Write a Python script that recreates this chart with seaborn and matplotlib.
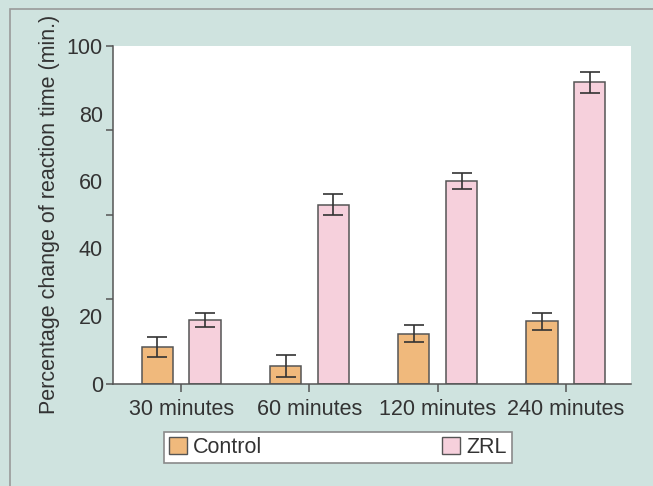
import matplotlib
matplotlib.use("Agg")
import matplotlib.pyplot as plt
import matplotlib.patches as mpatches
import pandas as pd
import seaborn as sns

# values
times = ['30 minutes', '60 minutes', '120 minutes', '240 minutes']
groups = ['Control', 'ZRL']
control_mean = [10.8, 5.2, 14.8, 18.5]
control_err = [3.0, 3.2, 2.5, 2.5]
zrl_mean = [18.7, 53.0, 60.1, 89.2]
zrl_err = [2.1, 3.0, 2.4, 3.0]
y_labels = [0, 20, 40, 60, 80, 100]
y_marks = [0, 25, 50, 75, 100]

data = pd.DataFrame({
    'Time': times * 2,
    'Group': ['Control'] * 4 + ['ZRL'] * 4,
    'Value': control_mean + zrl_mean,
    'Err': control_err + zrl_err,
})

bg = '#cfe3df'
text_c = '#333333'
line_c = '#555555'
palette = {'Control': '#f0b97c', 'ZRL': '#f6d0dc'}
fs = 15.5

sns.set_style('white')
plt.rcParams['font.family'] = ['Liberation Sans', 'DejaVu Sans']

fig = plt.figure(figsize=(6.53, 4.86), dpi=100, facecolor=bg)
fig.patches.append(mpatches.Rectangle((10 / 653, -0.1), 1.2, 1 - 9 / 486 + 0.1,
                                      transform=fig.transFigure, facecolor='none',
                                      edgecolor='#9a9a9a', linewidth=1.2, zorder=0))
ax = fig.add_axes([112.5 / 653, 1 - 383.5 / 486, (631 - 112.5) / 653, (383.5 - 46) / 486])

sns.barplot(data=data, x='Time', y='Value', hue='Group', hue_order=groups,
            palette=palette, saturation=1, width=0.744, gap=0.344, errorbar=None,
            edgecolor=line_c, linewidth=1.1, ax=ax, legend=False)

# error bars at the centres of the drawn bars
bars = [p for p in ax.patches if p.get_height() > 0]
for p in bars:
    xc = p.get_x() + p.get_width() / 2
    row = data[(data['Value'] - p.get_height()).abs() < 1e-9].iloc[0]
    ax.errorbar(xc, row['Value'], yerr=row['Err'], fmt='none', ecolor='#333333',
                elinewidth=1.2, capsize=7, capthick=1.2, zorder=5)

ax.set_xlim(-0.536, 3.508)
ax.set_ylim(0, 100)
ax.set_facecolor('white')
for s in ['top', 'right']:
    ax.spines[s].set_visible(False)
for s in ['left', 'bottom']:
    ax.spines[s].set_color(line_c)
    ax.spines[s].set_linewidth(1.1)

# labels every 20, tick marks every 25 (as in the reference)
ax.yaxis.remove_overlapping_locs = False
ax.set_yticks(y_labels)
ax.set_yticklabels([str(v) for v in y_labels])
ax.set_yticks(y_marks, minor=True)
ax.tick_params(axis='y', which='major', length=0, pad=7, labelsize=fs, labelcolor=text_c)
ax.tick_params(axis='y', which='minor', direction='out', length=5, width=1.1, color=line_c, left=True)
ax.tick_params(axis='x', direction='out', length=6, width=1.1, color=line_c, bottom=True,
               labelsize=fs, labelcolor=text_c, pad=5)
ax.set_xlabel('')
ax.set_ylabel('Percentage change of reaction time (min.)', fontsize=fs, color=text_c, labelpad=5)

handles = [mpatches.Patch(facecolor=palette[g], edgecolor=line_c, linewidth=1.0) for g in groups]
leg = fig.legend(handles, groups, ncol=2, mode='expand',
                 bbox_to_anchor=(164 / 653, 1 - 463 / 486, (512 - 164) / 653, 31 / 486),
                 loc='center', fontsize=fs, frameon=True, fancybox=False, framealpha=1,
                 handlelength=0.8, handleheight=0.8, handletextpad=0.3,
                 borderaxespad=0, borderpad=0.25)
leg.get_frame().set_edgecolor('#8a8a8a')
leg.get_frame().set_linewidth(1.2)
for t in leg.get_texts():
    t.set_color(text_c)

fig.savefig('out.png', dpi=100, facecolor=bg)
